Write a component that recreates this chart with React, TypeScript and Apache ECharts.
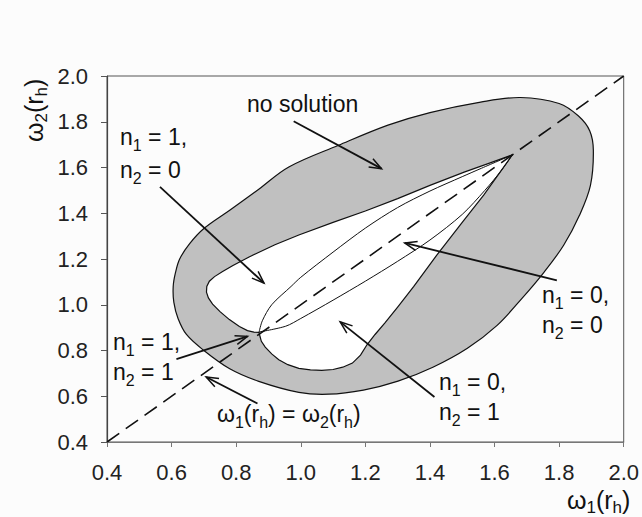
import React, { useEffect, useRef } from "react";
import * as echarts from "echarts";

// Outer boundary of the grey "no solution" band (data coordinates)
const outerBoundary: [number, number][] = [
  [1.68, 1.906], [1.8, 1.88], [1.86, 1.825], [1.895, 1.76], [1.906, 1.675],
  [1.897, 1.522], [1.863, 1.391], [1.814, 1.26], [1.753, 1.142], [1.685, 1.028],
  [1.608, 0.91], [1.516, 0.81], [1.409, 0.727], [1.301, 0.666], [1.194, 0.627],
  [1.086, 0.609], [0.994, 0.617], [0.87, 0.665], [0.78, 0.72], [0.7, 0.8],
  [0.646, 0.87], [0.62, 0.94], [0.607, 1.01], [0.605, 1.08], [0.612, 1.14],
  [0.625, 1.2], [0.656, 1.267], [0.7, 1.333], [0.78, 1.413], [0.87, 1.505],
  [0.963, 1.602], [1.117, 1.697], [1.27, 1.785], [1.4, 1.84], [1.557, 1.886],
];

// Inner boundary (white region with solutions)
const innerBoundary: [number, number][] = [
  [1.655, 1.655], [1.58, 1.617], [1.506, 1.58], [1.4, 1.522], [1.3, 1.464],
  [1.2, 1.41], [1.1, 1.36], [0.994, 1.305], [0.92, 1.262], [0.84, 1.209],
  [0.79, 1.172], [0.758, 1.145], [0.733, 1.123], [0.717, 1.103], [0.709, 1.08],
  [0.708, 1.055], [0.714, 1.03], [0.727, 1.003], [0.75, 0.97], [0.779, 0.935],
  [0.81, 0.905], [0.835, 0.887], [0.855, 0.88], [0.871, 0.879], [0.874, 0.86],
  [0.878, 0.84], [0.89, 0.815], [0.91, 0.785], [0.932, 0.76], [0.96, 0.738],
  [0.994, 0.722], [1.03, 0.715], [1.065, 0.713], [1.1, 0.717], [1.13, 0.727],
  [1.16, 0.745], [1.185, 0.78], [1.205, 0.825], [1.23, 0.87], [1.26, 0.92],
  [1.3, 0.99], [1.35, 1.08], [1.42, 1.215], [1.5, 1.36], [1.567, 1.48],
  [1.62, 1.585], [1.655, 1.655],
];

// Thin lens curves inside the white region
const upperLens: [number, number][] = [
  [0.871, 0.881], [0.881, 0.93], [0.91, 1.0], [0.97, 1.08], [1.0, 1.12],
  [1.1, 1.23], [1.2, 1.335], [1.3, 1.425], [1.4, 1.497], [1.5, 1.56],
  [1.56, 1.597], [1.655, 1.655],
];
const lowerLens: [number, number][] = [
  [0.871, 0.881], [0.953, 0.906], [1.0, 0.94], [1.1, 1.02], [1.2, 1.103],
  [1.3, 1.19], [1.4, 1.283], [1.5, 1.395], [1.57, 1.5], [1.62, 1.585],
  [1.655, 1.655],
];

// Dashed diagonal omega1 = omega2
const diagonal: [number, number][] = [[0.4, 0.4], [2.0, 2.0]];

// Pointer arrows: [fromX, fromY, toX, toY] (tip at "to")
const arrows: [number, number, number, number][] = [
  [0.978, 1.802, 1.25, 1.595],
  [0.564, 1.515, 0.886, 1.095],
  [1.793, 1.107, 1.322, 1.27],
  [1.414, 0.597, 1.122, 0.925],
  [0.615, 0.762, 0.835, 0.862],
  [0.866, 0.568, 0.707, 0.684],
];

// Annotation texts ({s|..} = subscript)
const annotationTexts: string[] = [
  "no solution",
  "n{s|1} = 1,",
  "n{s|2} = 0",
  "n{s|1} = 1,",
  "n{s|2} = 1",
  "n{s|1} = 0,",
  "n{s|2} = 0",
  "n{s|1} = 0,",
  "n{s|2} = 1",
  "ω{s|1}(r{s|h}) = ω{s|2}(r{s|h})",
];
const xAxisTitle = "ω{s|1}(r{s|h})";
const yAxisTitle = "ω{s|2}(r{s|h})";

const FONT = "'Liberation Sans', Arial, Helvetica, sans-serif";

export default function App() {
  const ref = useRef<HTMLDivElement>(null);

  useEffect(() => {
    if (!ref.current) return;
    const chart = echarts.init(ref.current, undefined, { renderer: "svg" });

    const richFor = (sub: number) => ({
      s: { fontSize: sub, fontFamily: FONT, fill: "#111", verticalAlign: "bottom", lineHeight: sub },
    });
    const annPos: [number, number][] = [
      [247, 112],
      [120, 145], [120, 178],
      [113, 350], [113, 380],
      [542, 303], [542, 333],
      [439, 390], [439, 420],
      [217, 422],
    ];
    const LH = 32;
    const BASE = 24; // baseline offset from top of the line box
    const textEl = (text: string, x: number, baseline: number, size = 23, sub = 16) => ({
      type: "text",
      x,
      y: baseline - BASE,
      silent: true,
      z: 100,
      style: {
        text,
        fontSize: size,
        fontFamily: FONT,
        fill: "#111",
        align: "left",
        verticalAlign: "top",
        lineHeight: LH,
        rich: richFor(sub),
      },
    });

    const graphics: any[] = annotationTexts.map((t, i) => textEl(t, annPos[i][0], annPos[i][1]));
    graphics.push(textEl(xAxisTitle, 567, 508, 25, 17));
    graphics.push({
      type: "text",
      x: 34,
      y: 142,
      rotation: Math.PI / 2,
      silent: true,
      z: 100,
      style: {
        text: yAxisTitle,
        fontSize: 25,
        fontFamily: FONT,
        fill: "#111",
        align: "left",
        verticalAlign: "middle",
        lineHeight: LH,
        rich: richFor(17),
      },
    });

    const polygonSeries = (pts: [number, number][], fill: string, z: number, smooth: number) => ({
      type: "custom",
      coordinateSystem: "cartesian2d",
      silent: true,
      z,
      data: pts,
      encode: { x: 0, y: 1 },
      renderItem: (params: any, api: any) => {
        if (params.dataIndex !== 0) return { type: "group", children: [] };
        return {
          type: "polygon",
          shape: { points: pts.map((p) => api.coord(p)), smooth },
          style: { fill, stroke: "#111", lineWidth: 1.2 },
        };
      },
    });

    chart.setOption({
      animation: false,
      backgroundColor: "#fcfcfc",
      grid: {
        left: 107,
        right: 14,
        top: 76,
        bottom: 75,
        show: true,
        borderColor: "#555",
        borderWidth: 1,
        backgroundColor: "transparent",
      },
      xAxis: {
        type: "value",
        min: 0.4,
        max: 2.0,
        interval: 0.2,
        axisLine: { show: true, onZero: false, lineStyle: { color: "#777", width: 1.2 } },
        axisTick: { show: true, inside: false, length: 5, lineStyle: { color: "#777" } },
        splitLine: { show: false },
        axisLabel: {
          margin: 19,
          fontSize: 22,
          fontFamily: FONT,
          color: "#222",
          formatter: (v: number) => v.toFixed(1),
        },
      },
      yAxis: {
        type: "value",
        min: 0.4,
        max: 2.0,
        interval: 0.2,
        axisLine: { show: true, onZero: false, lineStyle: { color: "#444", width: 1.2 } },
        axisTick: { show: true, inside: false, length: 6, lineStyle: { color: "#555" } },
        splitLine: { show: false },
        axisLabel: {
          margin: 19,
          fontSize: 22,
          fontFamily: FONT,
          color: "#222",
          formatter: (v: number) => v.toFixed(1),
        },
      },
      series: [
        polygonSeries(outerBoundary, "#c0c0c0", 1, 0.35),
        polygonSeries(innerBoundary, "#ffffff", 2, 0),
        {
          type: "line",
          data: upperLens,
          smooth: 0.3,
          showSymbol: false,
          symbol: "none",
          silent: true,
          z: 3,
          lineStyle: { color: "#111", width: 1 },
        },
        {
          type: "line",
          data: lowerLens,
          smooth: 0.3,
          showSymbol: false,
          symbol: "none",
          silent: true,
          z: 3,
          lineStyle: { color: "#111", width: 1 },
        },
        {
          type: "line",
          data: diagonal,
          showSymbol: false,
          symbol: "none",
          silent: true,
          z: 4,
          lineStyle: { color: "#111", width: 1.6, type: [15, 8] },
        },
        {
          type: "custom",
          coordinateSystem: "cartesian2d",
          silent: true,
          z: 5,
          data: arrows,
          encode: { x: [0, 2], y: [1, 3] },
          renderItem: (params: any, api: any) => {
            const p1 = api.coord([api.value(0), api.value(1)]);
            const p2 = api.coord([api.value(2), api.value(3)]);
            const a = Math.atan2(p2[1] - p1[1], p2[0] - p1[0]);
            const L = 13;
            const s = 0.36;
            const h1 = [p2[0] - L * Math.cos(a - s), p2[1] - L * Math.sin(a - s)];
            const h2 = [p2[0] - L * Math.cos(a + s), p2[1] - L * Math.sin(a + s)];
            return {
              type: "group",
              children: [
                {
                  type: "line",
                  shape: { x1: p1[0], y1: p1[1], x2: p2[0], y2: p2[1] },
                  style: { stroke: "#111", lineWidth: 1.8 },
                },
                {
                  type: "polyline",
                  shape: { points: [h1, p2, h2] },
                  style: { stroke: "#111", lineWidth: 1.5, fill: "none" },
                },
              ],
            };
          },
        },
      ],
      graphic: graphics,
    });

    return () => chart.dispose();
  }, []);

  return (
    <div
      ref={ref}
      style={{ position: "fixed", left: 0, top: 0, width: "642px", height: "517px" }}
    />
  );
}
